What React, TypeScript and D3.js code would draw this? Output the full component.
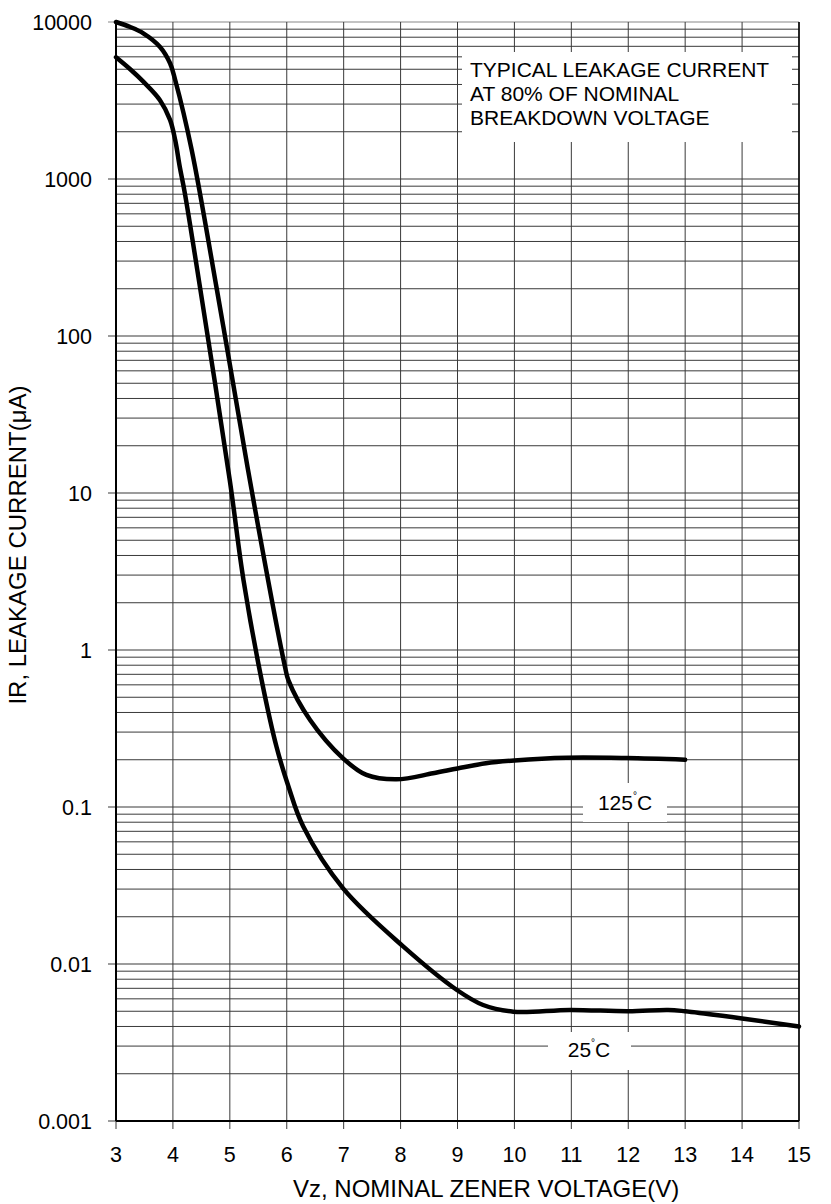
import React from "react";
import * as d3 from "d3";

// ---- data ----
const xTickValues = [3, 4, 5, 6, 7, 8, 9, 10, 11, 12, 13, 14, 15];
const yDecades = [0.001, 0.01, 0.1, 1, 10, 100, 1000, 10000];
const yDecadeLabels = ["0.001", "0.01", "0.1", "1", "10", "100", "1000", "10000"];

const vz125 = [3.0, 3.25, 3.48, 3.77, 3.95, 4.04, 4.33, 4.77, 5.0, 5.44, 5.97, 6.03, 6.41, 6.99, 7.4, 7.93, 8.57, 9.0, 9.5, 10.0, 10.92, 11.97, 13.0];
const ir125 = [10000, 9290, 8470, 6960, 5460, 4270, 1531, 200, 66, 8, 0.78, 0.64, 0.358, 0.204, 0.16, 0.15, 0.164, 0.176, 0.19, 0.198, 0.206, 0.205, 0.2];

const vz25 = [3.0, 3.25, 3.48, 3.77, 3.95, 4.04, 4.12, 4.21, 4.48, 5.0, 5.24, 5.56, 5.82, 6.03, 6.29, 6.99, 8.05, 8.99, 9.45, 9.98, 10.98, 12.0, 12.7, 13.0, 14.0, 15.0];
const ir25 = [5960, 5000, 4170, 3190, 2380, 1770, 1197, 811, 200, 12, 2.79, 0.64, 0.242, 0.135, 0.075, 0.0303, 0.0129, 0.00683, 0.00548, 0.00497, 0.0051, 0.005, 0.0051, 0.005, 0.0045, 0.004];

const annotationLines = ["TYPICAL LEAKAGE CURRENT", "AT 80% OF NOMINAL", "BREAKDOWN VOLTAGE"];
const xTitle = "Vz, NOMINAL ZENER VOLTAGE(V)";
const yTitle = "IR, LEAKAGE CURRENT(μA)";

export default function App() {
  const W = 831, H = 1204;
  const left = 116, right = 799, top = 22, bottom = 1121;
  const x = d3.scaleLinear().domain([3, 15]).range([left, right]);
  const y = d3.scaleLog().domain([0.001, 10000]).range([bottom, top]);
  const font = "'Liberation Sans', Arial, sans-serif";

  const minorVals: number[] = [];
  for (let e = -3; e < 4; e++) {
    for (let m = 2; m <= 9; m++) minorVals.push(m * Math.pow(10, e));
  }

  const line = d3
    .line<[number, number]>()
    .x((d) => x(d[0]))
    .y((d) => y(d[1]))
    .curve(d3.curveCatmullRom.alpha(0.5));

  const d125 = line(vz125.map((v, i) => [v, ir125[i]] as [number, number])) || "";
  const d25 = line(vz25.map((v, i) => [v, ir25[i]] as [number, number])) || "";

  const grid = "#3a3a3a";

  return (
    <svg width={W} height={H} style={{ position: "absolute", left: 0, top: 0, background: "#fff" }} fontFamily={font}>
      <rect x={0} y={0} width={W} height={H} fill="#fff" />
      {minorVals.map((v) => (
        <line key={"m" + v} x1={left} x2={right} y1={y(v)} y2={y(v)} stroke={grid} strokeWidth={1} />
      ))}
      {yDecades.map((v) => (
        <line key={"d" + v} x1={left - 8} x2={right} y1={y(v)} y2={y(v)} stroke={v === 10000 ? "#888" : grid} strokeWidth={1.2} />
      ))}
      {xTickValues.map((v) => (
        <line key={"v" + v} x1={x(v)} x2={x(v)} y1={top} y2={bottom + 8} stroke={grid} strokeWidth={1} />
      ))}
      <line x1={left} x2={left} y1={top} y2={bottom} stroke="#000" strokeWidth={2} />
      <line x1={left} x2={right} y1={bottom} y2={bottom} stroke="#000" strokeWidth={2} />
      <line x1={right} x2={right} y1={top} y2={bottom} stroke="#000" strokeWidth={1.5} />

      <rect x={462} y={52} width={330} height={90} fill="#fff" />
      <rect x={583} y={783} width={84} height={39} fill="#fff" />
      <rect x={548} y={1032} width={83} height={38} fill="#fff" />

      <path d={d125} fill="none" stroke="#000" strokeWidth={4.5} strokeLinecap="round" />
      <path d={d25} fill="none" stroke="#000" strokeWidth={4.5} strokeLinecap="round" />

      {annotationLines.map((t, i) => (
        <text key={t} x={470} y={77 + i * 24} fontSize={21} fill="#000">
          {t}
        </text>
      ))}
      <text x={625} y={810} fontSize={21} textAnchor="middle" fill="#000">
        125<tspan fontSize={10} dy={-11}>°</tspan>
        <tspan dy={11}>C</tspan>
      </text>
      <text x={589} y={1057} fontSize={21} textAnchor="middle" fill="#000">
        25<tspan fontSize={10} dy={-11}>°</tspan>
        <tspan dy={11}>C</tspan>
      </text>

      {yDecades.map((v, i) => (
        <text key={"yl" + v} x={92} y={y(v)} dy="0.36em" fontSize={21.5} textAnchor="end" fill="#000">
          {yDecadeLabels[i]}
        </text>
      ))}
      {xTickValues.map((v) => (
        <text key={"xl" + v} x={x(v)} y={1162} fontSize={21.5} textAnchor="middle" fill="#000">
          {v}
        </text>
      ))}
      <text x={293} y={1197} fontSize={24} fill="#000">
        {xTitle}
      </text>
      <text transform={`translate(26,545) rotate(-90)`} fontSize={24} textAnchor="middle" fill="#000">
        {yTitle}
      </text>
    </svg>
  );
}
